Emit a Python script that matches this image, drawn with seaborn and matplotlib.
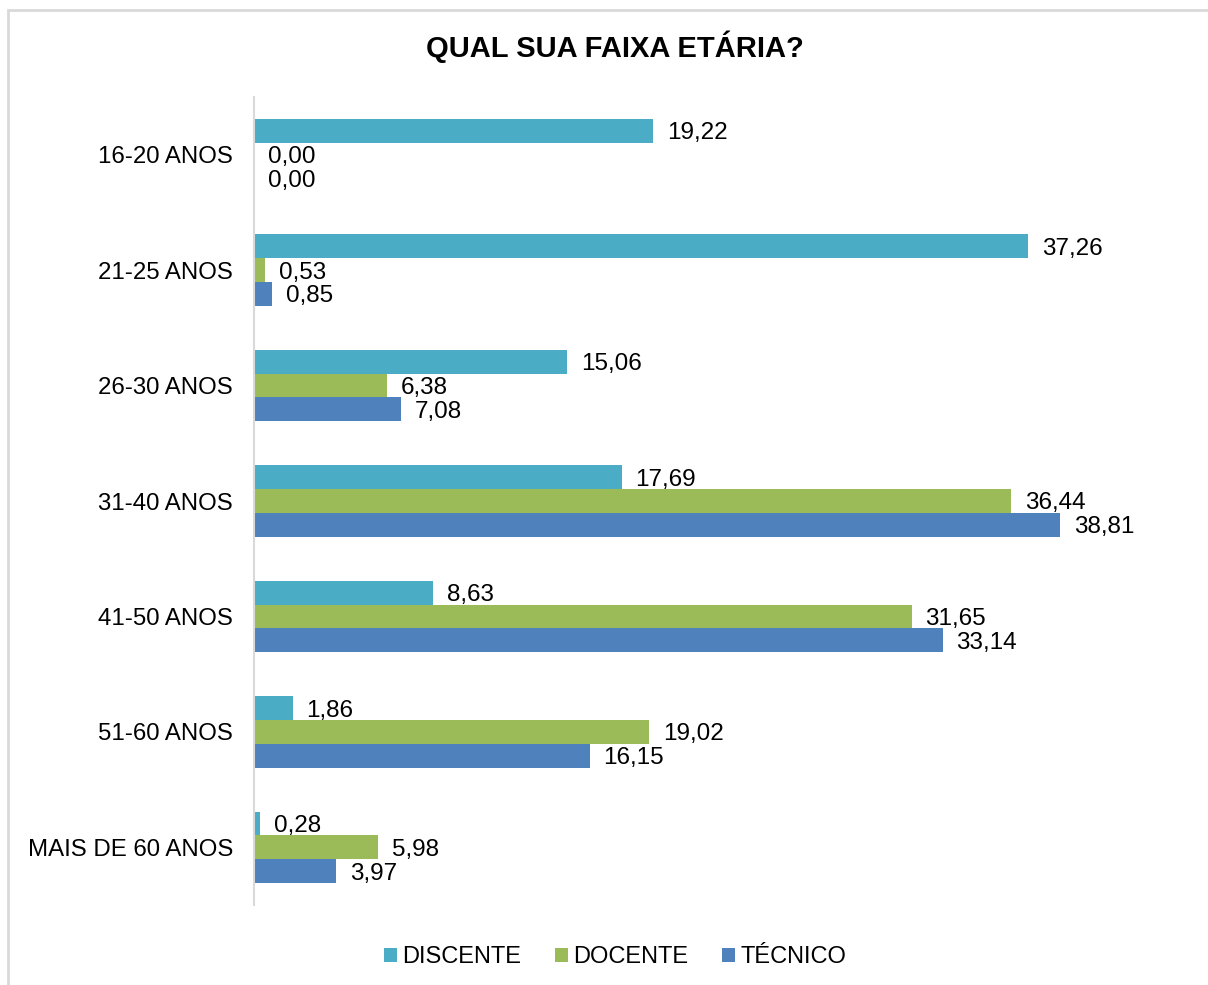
import pandas as pd
import numpy as np
import matplotlib
matplotlib.use('Agg')
import matplotlib.pyplot as plt
import seaborn as sns
from matplotlib.patches import Rectangle

# データ
faixas = ['16-20 ANOS', '21-25 ANOS', '26-30 ANOS', '31-40 ANOS',
          '41-50 ANOS', '51-60 ANOS', 'MAIS DE 60 ANOS']
grupos = ['DISCENTE', 'DOCENTE', 'TÉCNICO']
discente = [19.22, 37.26, 15.06, 17.69, 8.63, 1.86, 0.28]
docente = [0.00, 0.53, 6.38, 36.44, 31.65, 19.02, 5.98]
tecnico = [0.00, 0.85, 7.08, 38.81, 33.14, 16.15, 3.97]
cores = ['#4BACC6', '#9BBB59', '#4F81BD']

df = pd.DataFrame({
    'faixa': faixas * 3,
    'grupo': np.repeat(grupos, len(faixas)),
    'valor': discente + docente + tecnico,
})

sns.set_theme(style='white')
plt.rcParams['font.family'] = ['Liberation Sans', 'DejaVu Sans']
plt.rcParams['text.color'] = 'black'
plt.rcParams['ytick.color'] = 'black'
plt.rcParams['xtick.color'] = 'black'

fig = plt.figure(figsize=(12.08, 9.85), dpi=100)
ax = fig.add_axes([254 / 1208, 1 - 905 / 985, (1189 - 254) / 1208, 808 / 985])

sns.barplot(data=df, y='faixa', x='valor', hue='grupo', order=faixas,
            hue_order=grupos, palette=cores, orient='h', width=0.62,
            saturation=1, linewidth=0, legend=True, ax=ax)

for cont in ax.containers:
    lbls = ax.bar_label(cont, labels=[f'{v:.2f}'.replace('.', ',') for v in cont.datavalues],
                        padding=10, fontsize=17.5, color='black')
    for t in lbls:
        t.set_va('center_baseline')

ax.set_xlim(0, 45)
ax.set_ylim(6.5, -0.5)
ax.set_xlabel('')
ax.set_ylabel('')
ax.set_xticks([])
ax.tick_params(axis='y', length=0, pad=15, labelsize=17.3, labelcolor='black')
for s in ['top', 'right', 'bottom']:
    ax.spines[s].set_visible(False)
ax.spines['left'].set_color('#D9D9D9')
ax.spines['left'].set_linewidth(1.5)

ax.legend(loc='center', bbox_to_anchor=(615 / 1208, 1 - 957 / 985),
          bbox_transform=fig.transFigure, ncol=3, frameon=False, fontsize=17,
          handlelength=0.55, handleheight=0.55, handletextpad=0.25, columnspacing=1.4)

fig.text(615 / 1208, 1 - 47 / 985, 'QUAL SUA FAIXA ETÁRIA?', ha='center', va='center',
         fontsize=21, fontweight='bold', color='black')

# 枠線
fig.patches.append(Rectangle((8 / 1208, -0.05), 1.1, 1 - 10 / 985 + 0.05,
                             transform=fig.transFigure, fill=False,
                             edgecolor='#D9D9D9', linewidth=2))

fig.savefig('out.png', dpi=100)
